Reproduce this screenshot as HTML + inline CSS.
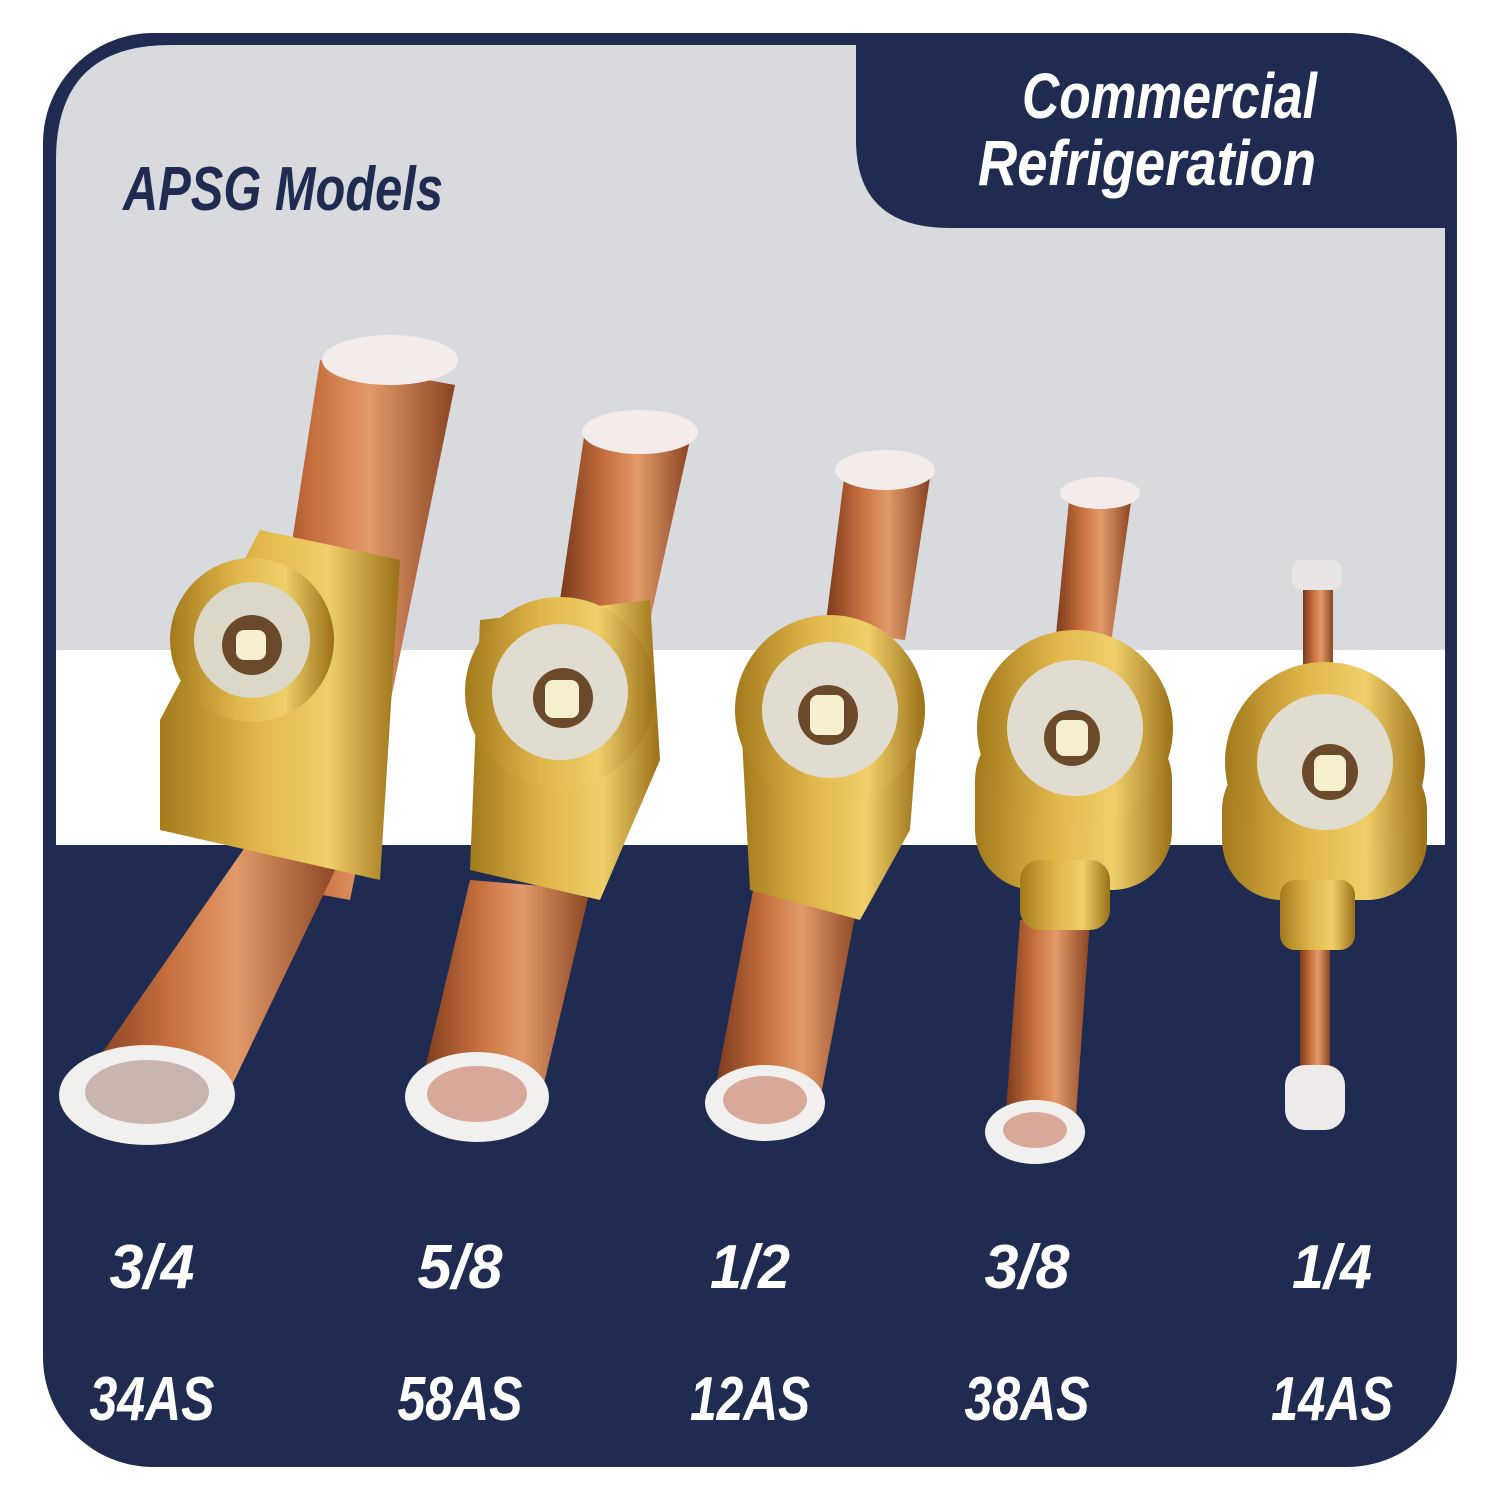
<!DOCTYPE html>
<html><head><meta charset="utf-8"><style>html,body{margin:0;padding:0;background:#fff}svg{display:block}</style></head>
<body>
<svg width="1500" height="1500" viewBox="0 0 1500 1500" xmlns="http://www.w3.org/2000/svg">
<defs>
<linearGradient id="cu" x1="0" x2="1" y1="0" y2="0">
<stop offset="0" stop-color="#7a3a1c"/><stop offset="0.35" stop-color="#c8703f"/><stop offset="0.6" stop-color="#e29a6a"/><stop offset="1" stop-color="#8a4422"/></linearGradient>
<linearGradient id="br" x1="0" x2="1" y1="0" y2="0">
<stop offset="0" stop-color="#a37a1c"/><stop offset="0.4" stop-color="#e0b64a"/><stop offset="0.7" stop-color="#f0cf6a"/><stop offset="1" stop-color="#9a7018"/></linearGradient>
</defs>
<rect x="43" y="33" width="1414" height="1434" rx="110" fill="#1f2b50"/>
<path d="M56 845 V160 Q56 45 170 45 H856 V140 Q856 228 950 228 H1445 V845 Z" fill="#d9dadd"/>
<rect x="56" y="650" width="1389" height="195" fill="#fff"/>
<text x="123" y="210" font-family="'Liberation Sans Narrow','Liberation Sans',sans-serif" font-weight="bold" font-style="italic" font-size="62" fill="#1f2b50" textLength="320" lengthAdjust="spacingAndGlyphs">APSG Models</text>
<g font-family="'Liberation Sans Narrow','Liberation Sans',sans-serif" font-weight="bold" font-style="italic" fill="#fff" font-size="64">
<text x="1022" y="118" textLength="295" lengthAdjust="spacingAndGlyphs">Commercial</text>
<text x="978" y="185" textLength="338" lengthAdjust="spacingAndGlyphs">Refrigeration</text>
</g>
<g font-family="'Liberation Sans Narrow','Liberation Sans',sans-serif" font-weight="bold" font-style="italic" fill="#fff" font-size="62" text-anchor="middle">
<text x="152" y="1288" textLength="85" lengthAdjust="spacingAndGlyphs">3/4</text><text x="460" y="1288" textLength="85" lengthAdjust="spacingAndGlyphs">5/8</text><text x="750" y="1288" textLength="80" lengthAdjust="spacingAndGlyphs">1/2</text><text x="1027" y="1288" textLength="85" lengthAdjust="spacingAndGlyphs">3/8</text><text x="1332" y="1288" textLength="80" lengthAdjust="spacingAndGlyphs">1/4</text>
<text x="152" y="1420" textLength="125" lengthAdjust="spacingAndGlyphs">34AS</text><text x="460" y="1420" textLength="125" lengthAdjust="spacingAndGlyphs">58AS</text><text x="750" y="1420" textLength="120" lengthAdjust="spacingAndGlyphs">12AS</text><text x="1027" y="1420" textLength="125" lengthAdjust="spacingAndGlyphs">38AS</text><text x="1332" y="1420" textLength="122" lengthAdjust="spacingAndGlyphs">14AS</text>
</g>
<g>
<polygon points="320,360 455,385 350,900 240,880" fill="url(#cu)"/>
<polygon points="250,840 340,860 220,1110 80,1085" fill="url(#cu)"/>
<ellipse cx="390" cy="360" rx="68" ry="25" fill="#f4ecea"/>
<polygon points="260,530 400,560 380,880 160,830 160,720" fill="url(#br)"/>
<circle cx="252" cy="640" r="82" fill="url(#br)"/>
<circle cx="252" cy="640" r="58" fill="#dcd8c8"/>
<circle cx="252" cy="645" r="30" fill="#6a4a2a"/>
<rect x="236" y="630" width="30" height="30" rx="8" fill="#f6f0d0"/>
<ellipse cx="147" cy="1095" rx="88" ry="50" fill="#f2f0ef"/>
<ellipse cx="147" cy="1092" rx="62" ry="32" fill="#c9b5b0"/>
</g>
<g>
<polygon points="585,430 690,440 650,620 560,600" fill="url(#cu)"/>
<polygon points="470,880 590,890 540,1100 420,1090" fill="url(#cu)"/>
<ellipse cx="640" cy="432" rx="58" ry="22" fill="#f4ecea"/>
<polygon points="480,620 650,600 660,760 600,900 470,870" fill="url(#br)"/>
<circle cx="560" cy="692" r="95" fill="url(#br)"/>
<circle cx="560" cy="692" r="68" fill="#e0ddd0"/>
<circle cx="563" cy="698" r="30" fill="#6a4a2a"/>
<rect x="545" y="680" width="34" height="38" rx="8" fill="#f6f0d0"/>
<ellipse cx="477" cy="1097" rx="72" ry="45" fill="#f2f0ef"/>
<ellipse cx="477" cy="1094" rx="50" ry="28" fill="#d8a898"/>
</g>
<g>
<polygon points="845,470 930,478 905,640 825,630" fill="url(#cu)"/>
<polygon points="755,880 860,890 820,1100 715,1090" fill="url(#cu)"/>
<ellipse cx="885" cy="470" rx="50" ry="20" fill="#f4ecea"/>
<polygon points="740,700 920,700 910,830 860,920 750,890" fill="url(#br)"/>
<circle cx="830" cy="710" r="95" fill="url(#br)"/>
<circle cx="830" cy="710" r="68" fill="#e0ddd0"/>
<circle cx="828" cy="715" r="30" fill="#6a4a2a"/>
<rect x="810" y="695" width="34" height="40" rx="8" fill="#f6f0d0"/>
<ellipse cx="765" cy="1103" rx="60" ry="38" fill="#f2f0ef"/>
<ellipse cx="765" cy="1100" rx="42" ry="24" fill="#d8a898"/>
</g>
<g>
<polygon points="1070,490 1132,495 1110,650 1055,645" fill="url(#cu)"/>
<polygon points="1020,920 1090,920 1075,1130 1005,1125" fill="url(#cu)"/>
<ellipse cx="1100" cy="493" rx="40" ry="16" fill="#f4ecea"/>
<rect x="975" y="720" width="197" height="170" rx="60" fill="url(#br)"/>
<rect x="1020" y="860" width="90" height="70" rx="20" fill="url(#br)"/>
<circle cx="1075" cy="728" r="98" fill="url(#br)"/>
<circle cx="1075" cy="728" r="68" fill="#e0ddd0"/>
<circle cx="1072" cy="738" r="28" fill="#6a4a2a"/>
<rect x="1056" y="720" width="32" height="36" rx="8" fill="#f6f0d0"/>
<ellipse cx="1035" cy="1132" rx="50" ry="32" fill="#f2f0ef"/>
<ellipse cx="1035" cy="1130" rx="32" ry="18" fill="#d8a898"/>
</g>
<g>
<rect x="1303" y="580" width="30" height="110" fill="url(#cu)"/>
<rect x="1300" y="950" width="30" height="130" fill="url(#cu)"/>
<rect x="1292" y="560" width="50" height="30" rx="10" fill="#e8e4e4"/>
<rect x="1222" y="750" width="205" height="150" rx="60" fill="url(#br)"/>
<rect x="1280" y="880" width="75" height="70" rx="15" fill="url(#br)"/>
<circle cx="1325" cy="762" r="100" fill="url(#br)"/>
<circle cx="1325" cy="762" r="68" fill="#e0ddd0"/>
<circle cx="1330" cy="772" r="28" fill="#6a4a2a"/>
<rect x="1314" y="755" width="32" height="36" rx="8" fill="#f6f0d0"/>
<rect x="1285" y="1065" width="60" height="65" rx="20" fill="#efeaea"/>
</g>
</svg>
</body></html>
